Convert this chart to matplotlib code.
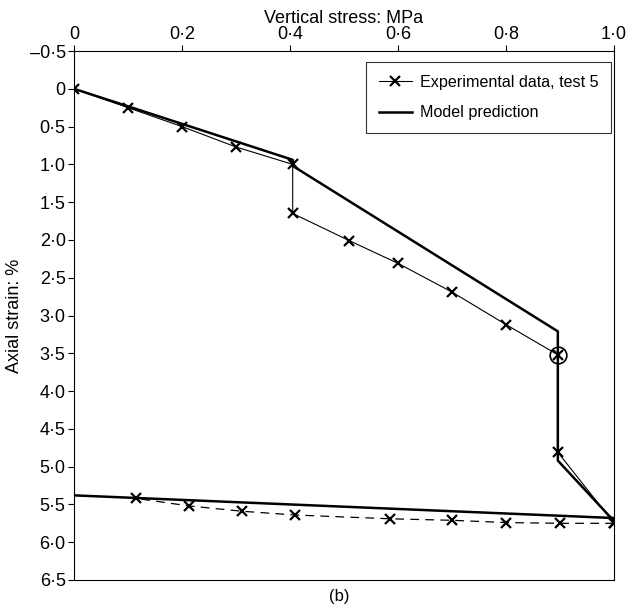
import numpy as np
import matplotlib
matplotlib.use('Agg')
import matplotlib.pyplot as plt

plt.rcParams['font.family'] = ['Liberation Sans', 'DejaVu Sans']

# experimental data, test 5 (loading branch)
exp_stress = [0.0, 0.10, 0.20, 0.30, 0.405, 0.405, 0.51, 0.60, 0.70, 0.80, 0.896, 0.896, 1.0]
exp_strain = [0.0, 0.25, 0.50, 0.77, 1.00, 1.65, 2.01, 2.31, 2.69, 3.12, 3.52, 4.81, 5.75]

# experimental unloading branch (dashed)
unl_stress = [1.0, 0.90, 0.80, 0.70, 0.585, 0.409, 0.311, 0.213, 0.115]
unl_strain = [5.75, 5.75, 5.74, 5.71, 5.69, 5.64, 5.59, 5.52, 5.42]

# model prediction
mod_stress = [0.0, 0.405, 0.405, 0.896, 0.896, 1.0, 1.0, 0.0]
mod_strain = [0.0, 0.94, 1.02, 3.21, 4.92, 5.72, 5.68, 5.38]

# circled point
circ_stress = 0.896
circ_strain = 3.52

xticks = [0, 0.2, 0.4, 0.6, 0.8, 1.0]
xlabels = ['0', '0·2', '0·4', '0·6', '0·8', '1·0']
yticks = np.arange(-0.5, 6.51, 0.5)
ylabels = ['0' if abs(v) < 1e-9 else ('%.1f' % v).replace('.', '·').replace('-', '–') for v in yticks]

fig = plt.figure(figsize=(6.37, 6.12), dpi=100)
ax = fig.add_axes([74/637, 1-580/612, 540/637, 529/612])

ax.plot(mod_stress, mod_strain, color='black', lw=1.8, label='Model prediction', zorder=2)
ax.plot(exp_stress, exp_strain, color='black', lw=0.8, marker='x', ms=7, mew=1.6,
        label='Experimental data, test 5', zorder=3)
ax.plot(unl_stress, unl_strain, color='black', lw=0.9, ls=(0, (7, 5)), marker='x', ms=7, mew=1.6, zorder=3)
ax.plot([circ_stress], [circ_strain], marker='o', ms=12, mfc='none', mec='black', mew=1.2, zorder=4)

ax.set_xlim(0, 1.0)
ax.set_ylim(6.5, -0.5)
ax.xaxis.tick_top()
ax.xaxis.set_label_position('top')
ax.set_xticks(xticks)
ax.set_xticklabels(xlabels)
ax.set_yticks(yticks)
ax.set_yticklabels(ylabels)
ax.tick_params(direction='out', length=4, width=0.8, labelsize=13, pad=2)
ax.set_xlabel('Vertical stress: MPa', fontsize=13, labelpad=2)
ax.set_ylabel('Axial strain: %', fontsize=13, labelpad=5)
for s in ax.spines.values():
    s.set_linewidth(0.8)

handles, labels = ax.get_legend_handles_labels()
leg = ax.legend(handles[::-1], labels[::-1], loc='upper right', fontsize=11.6, frameon=True,
                fancybox=False, edgecolor='black', borderpad=0.8, labelspacing=0.95,
                handlelength=2.0, handletextpad=0.5, borderaxespad=0,
                bbox_to_anchor=(0.9944, 0.979))
leg.get_frame().set_linewidth(0.8)

fig.text(339/637, 1-597/612, '(b)', ha='center', va='center', fontsize=12)

fig.savefig('out.png', dpi=100)
